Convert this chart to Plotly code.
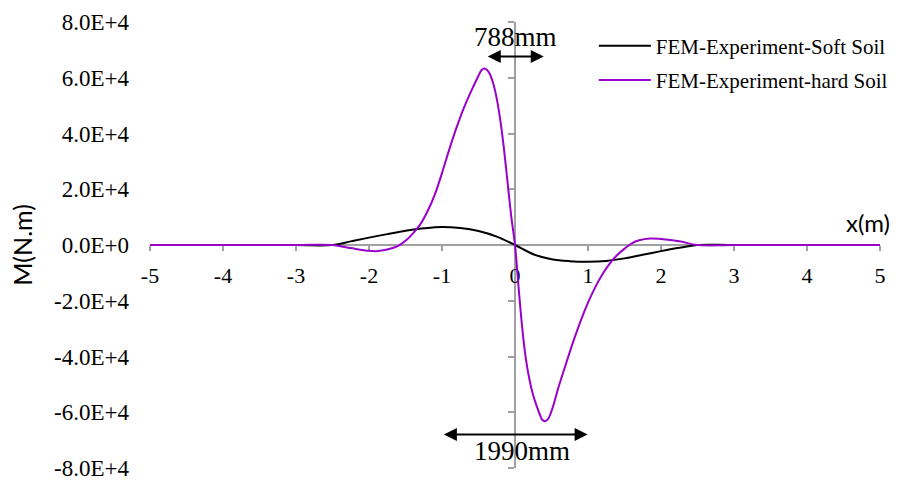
import plotly.graph_objects as go

# Bending moment along the beam, M (N.m) against x (m)
x_soft = [-5, -4, -3, -2.5, -2.25, -2.0, -1.75, -1.5, -1.25, -1.0, -0.75, -0.5, -0.25, 0,
          0.25, 0.5, 0.75, 1.0, 1.25, 1.5, 1.75, 2.0, 2.25, 2.5, 3, 4, 5]
m_soft = [0, 0, 0, 0, 1300, 2650, 3900, 5100, 6000, 6500, 6100, 5000, 3000, 0,
          -3300, -5100, -5800, -6000, -5700, -4800, -3500, -2200, -1000, 0, 0, 0, 0]

x_hard = [-5, -4, -3, -2.5, -2.25, -2.0, -1.9, -1.75, -1.6, -1.5, -1.4, -1.3, -1.2, -1.1,
          -1.0, -0.9, -0.8, -0.7, -0.6, -0.5, -0.46, -0.42, -0.38, -0.35, -0.3, -0.25, -0.2,
          -0.15, -0.1, -0.05, 0, 0.05, 0.1, 0.15, 0.2, 0.25, 0.3, 0.35, 0.37, 0.41, 0.45,
          0.5, 0.6, 0.7, 0.8, 0.9, 1.0, 1.1, 1.2, 1.3, 1.4, 1.5, 1.6, 1.7, 1.85, 2.0, 2.25,
          2.5, 3, 4, 5]
m_hard = [0, 0, 0, 0, -1100, -2100, -2200, -1600, -300, 1500, 4100, 7300, 12000, 18000,
          25800, 34300, 42200, 49200, 55200, 60700, 62700, 63300, 62700, 61600, 58100, 52500, 44500,
          34200, 22000, 10000, 0, -15500, -30000, -41000, -48500, -54000, -58000, -61500, -62600, -63200, -62500,
          -59600, -50700, -42500, -34500, -27200, -20700, -15100, -10400, -6600, -3600, -1300, 600, 1700, 2350, 2150, 1350,
          0, 0, 0, 0]

series_names = ["FEM-Experiment-Soft Soil", "FEM-Experiment-hard Soil"]

x_ticks = [-5, -4, -3, -2, -1, 0, 1, 2, 3, 4, 5]
y_ticks = [80000, 60000, 40000, 20000, 0, -20000, -40000, -60000, -80000]
y_tick_labels = ["8.0E+4", "6.0E+4", "4.0E+4", "2.0E+4", "0.0E+0",
                 "-2.0E+4", "-4.0E+4", "-6.0E+4", "-8.0E+4"]

# Dimension markers: peak-to-peak spans in mm
span_hard_mm = 788
span_soft_mm = 1990

SERIF = "Liberation Serif"
SANS = "Lato"
AXIS_GREY = "#A0A0A0"

fig = go.Figure()
fig.add_trace(go.Scatter(x=x_soft, y=m_soft, mode="lines", name=series_names[0],
                         line=dict(color="black", width=2, shape="spline", smoothing=1.0),
                         legendgroup="a"))
fig.add_trace(go.Scatter(x=x_hard, y=m_hard, mode="lines", name=series_names[1],
                         line=dict(color="#9900CC", width=2, shape="spline", smoothing=1.0),
                         legendgroup="b"))
# carrier for the vertical axis drawn through x = 0
fig.add_trace(go.Scatter(x=[], y=[], yaxis="y2", showlegend=False, hoverinfo="skip"))

fig.update_layout(
    width=900, height=480,
    margin=dict(l=150, r=20, t=22, b=12, autoexpand=False),
    plot_bgcolor="white", paper_bgcolor="white",
    showlegend=True,
    legend=dict(x=0.608, y=0.992, xanchor="left", yanchor="top",
                font=dict(family=SERIF, size=21, color="black"),
                itemwidth=52,
                bgcolor="rgba(0,0,0,0)", tracegroupgap=4),
    xaxis=dict(range=[-5, 5], domain=[0, 1], anchor="free", position=0.5,
               tickvals=x_ticks, ticktext=[str(v) for v in x_ticks],
               showline=True, linecolor=AXIS_GREY, linewidth=2,
               ticks="outside", ticklen=5, tickwidth=2, tickcolor=AXIS_GREY,
               tickfont=dict(family=SERIF, size=22, color="black"),
               ticklabelstandoff=6,
               showgrid=False, zeroline=False, layer="below traces"),
    yaxis=dict(range=[-80000, 80000], domain=[0, 1],
               tickvals=y_ticks, ticktext=y_tick_labels,
               showline=False, ticks="", showgrid=False, zeroline=False,
               tickfont=dict(family=SERIF, size=23, color="black"),
               ticklabelstandoff=20, ticklabeloverflow="allow",
               title=dict(text="M(N.m)", font=dict(family=SANS, size=25, color="black"),
                          standoff=14)),
    yaxis2=dict(range=[-80000, 80000], overlaying="y", anchor="free", position=0.5,
                side="left", tickvals=y_ticks, showticklabels=False,
                showline=True, linecolor=AXIS_GREY, linewidth=2,
                ticks="outside", ticklen=6, tickwidth=2, tickcolor=AXIS_GREY,
                showgrid=False, zeroline=False, layer="below traces"),
)

# double-headed dimension arrows
for span_mm, level in [(span_hard_mm, 67600), (span_soft_mm, -68000)]:
    half = span_mm / 2000.0
    fig.add_annotation(x=half, y=level, ax=-half, ay=level, xref="x", yref="y",
                       axref="x", ayref="y", text="", showarrow=True,
                       arrowhead=2, startarrowhead=2, arrowside="end+start",
                       arrowsize=1.3, startarrowsize=1.3, arrowwidth=2, arrowcolor="black")

fig.add_annotation(x=0, y=74800, xref="x", yref="y", text=f"{span_hard_mm}mm",
                   showarrow=False, font=dict(family=SERIF, size=27, color="black"))
fig.add_annotation(x=0.1, y=-74000, xref="x", yref="y", text=f"{span_soft_mm}mm",
                   showarrow=False, font=dict(family=SERIF, size=27, color="black"))

# axis caption for x, sitting above the axis at its right end
fig.add_annotation(x=1.016, y=0, xref="paper", yref="y", xanchor="right", yanchor="bottom",
                   yshift=6, text="x(m)", showarrow=False,
                   font=dict(family=SANS, size=24, color="black"))

fig.write_html("out.html")
